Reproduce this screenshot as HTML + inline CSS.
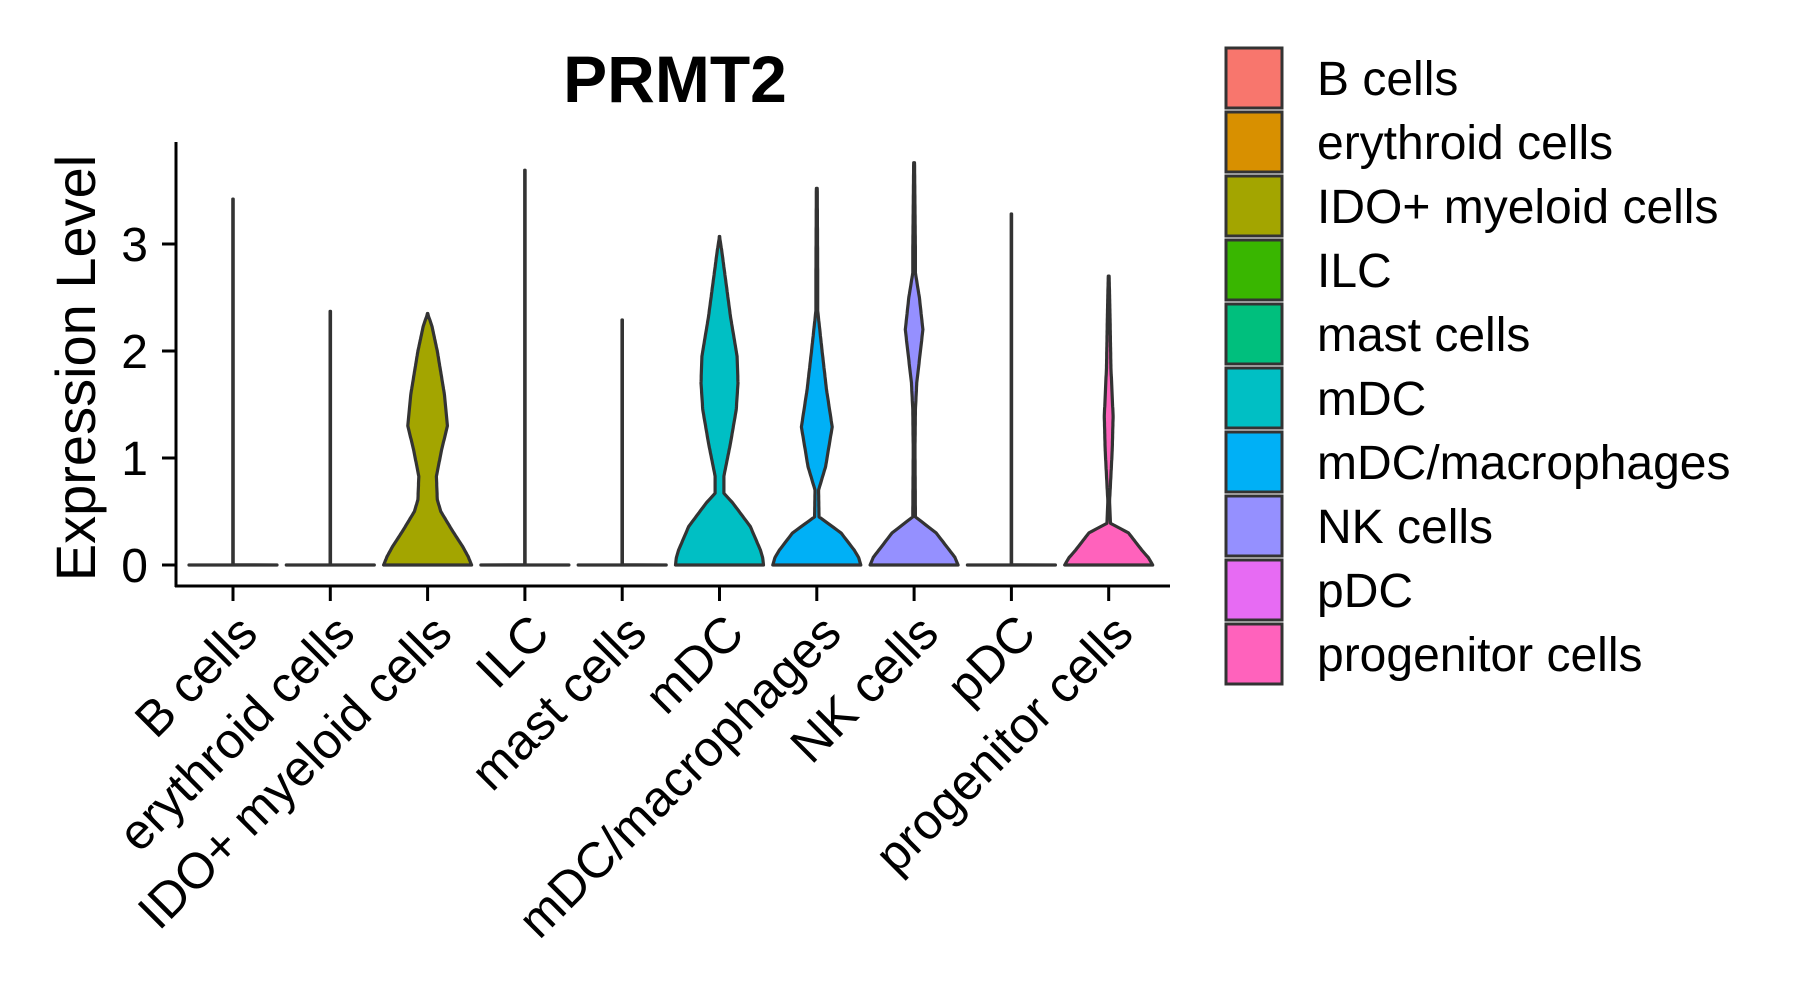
<!DOCTYPE html>
<html><head><meta charset="utf-8"><style>
html,body{margin:0;padding:0;background:#fff;}
svg{display:block;font-family:"Liberation Sans",Arial,sans-serif;}
</style></head><body>
<svg id="chart" width="1795" height="1002" viewBox="0 0 1795 1002">
<text x="675" y="102" text-anchor="middle" font-size="66" font-weight="bold">PRMT2</text>
<text transform="translate(95,368) rotate(-90)" text-anchor="middle" font-size="56">Expression Level</text>
<g id="plot"></g>
<g id="legend"></g>
</svg>
<script>
const categories = ["B cells","erythroid cells","IDO+ myeloid cells","ILC","mast cells","mDC","mDC/macrophages","NK cells","pDC","progenitor cells"];
const colors = ["#F8766D","#D89000","#A3A500","#39B600","#00BF7D","#00BFC4","#00B0F6","#9590FF","#E76BF3","#FF62BC"];
const maxValues = [3.42,2.37,2.35,3.69,2.29,3.07,3.52,3.76,3.28,2.70];
const yTicks = [0,1,2,3];
// density profiles: [expression, relative half-width]
const profiles = [
 [[0,1],[0.002,0.005],[3.42,0.005]],
 [[0,1],[0.002,0.005],[2.37,0.005]],
 [[0,1],[0.08,0.92],[0.17,0.8],[0.33,0.55],[0.5,0.3],[0.61,0.22],[0.83,0.2],[1.08,0.32],[1.3,0.45],[1.6,0.38],[2.0,0.22],[2.23,0.1],[2.35,0]],
 [[0,1],[0.002,0.005],[3.69,0.005]],
 [[0,1],[0.002,0.005],[2.29,0.005]],
 [[0,1],[0.07,0.98],[0.14,0.93],[0.36,0.7],[0.58,0.3],[0.67,0.1],[0.83,0.1],[1.14,0.25],[1.45,0.38],[1.7,0.42],[1.95,0.4],[2.32,0.25],[2.63,0.15],[2.94,0.05],[3.07,0]],
 [[0,1],[0.07,0.95],[0.14,0.85],[0.3,0.55],[0.45,0.05],[0.7,0.04],[0.92,0.2],[1.29,0.35],[1.64,0.22],[2.0,0.12],[2.38,0.02],[2.73,0.02],[3.52,0.01]],
 [[0,1],[0.07,0.93],[0.14,0.8],[0.3,0.5],[0.45,0.03],[1.07,0.02],[1.45,0.03],[1.7,0.06],[2.2,0.2],[2.5,0.12],[2.73,0.03],[2.94,0.03],[3.76,0.01]],
 [[0,1],[0.002,0.005],[3.28,0.005]],
 [[0,1],[0.07,0.9],[0.14,0.75],[0.3,0.45],[0.39,0.04],[0.6,0.02],[1.07,0.08],[1.39,0.1],[1.85,0.05],[2.32,0.03],[2.7,0.01]]
];
const NS="http://www.w3.org/2000/svg";
const plot=document.getElementById('plot');
const X0=233, STEP=97.3, Y0=565, UNIT=107, HALF=44;
function xScale(i){return X0+i*STEP;}
function yScale(v){return Y0-v*UNIT;}
function mk(tag,attrs,parent){const e=document.createElementNS(NS,tag);for(const k in attrs)e.setAttribute(k,attrs[k]);parent.appendChild(e);return e;}
const yAxis=mk('line',{x1:176,y1:142,x2:176,y2:587,stroke:'#000','stroke-width':3},plot);


const xAxis=mk('line',{x1:175,y1:586,x2:1170,y2:586,stroke:'#000','stroke-width':3},plot);


yTicks.forEach(t=>{
  const y=yScale(t);
  const tk=mk('line',{x1:162,y1:y,x2:176,y2:y,stroke:'#000','stroke-width':3},plot);
  
  
  const lb=mk('text',{x:148,y:y+17,'text-anchor':'end','font-size':48},plot);
  lb.textContent=t;
  
  
});
function interp(p,v){
  for(let k=0;k<p.length-1;k++){
    if(v>=p[k][0]&&v<=p[k+1][0]){
      const t=(v-p[k][0])/(p[k+1][0]-p[k][0]||1);
      return p[k][1]+(p[k+1][1]-p[k][1])*t;
    }
  }
  return p[p.length-1][1];
}
categories.forEach((c,i)=>{
  const cx=xScale(i);
  const p=profiles[i];
  const top=maxValues[i];
  let vs=p.map(q=>q[0]).filter(v=>v<=top);
  for(let k=0;k<=120;k++) vs.push(top*k/120);
  vs.push(top);
  vs=[...new Set(vs.map(v=>+v.toFixed(4)))].sort((a,b)=>a-b);
  const right=[], left=[];
  vs.forEach(v=>{
    const w=Math.max(interp(p,v),0.004)*HALF;
    right.push([cx+w,yScale(v)]);
    left.push([cx-w,yScale(v)]);
  });
  const pts=right.concat(left.reverse()).map(q=>q[0].toFixed(1)+','+q[1].toFixed(1)).join(' ');
  const vp=mk('polygon',{points:pts,fill:colors[i],stroke:'#333','stroke-width':3.2,'stroke-linejoin':'round'},plot);
  
  
  const tk=mk('line',{x1:cx,y1:586,x2:cx,y2:601,stroke:'#000','stroke-width':3},plot);
  
  
  const lb=mk('text',{transform:'translate('+(cx+27)+',636) rotate(-45)','text-anchor':'end','font-size':50},plot);
  lb.textContent=c;
  
  
});
const leg=document.getElementById('legend');
categories.forEach((c,i)=>{
  const y=48+i*64;
  const r=mk('rect',{x:1226,y:y,width:56,height:60,fill:colors[i],stroke:'#333','stroke-width':3},leg);
  
  
  const t=mk('text',{x:1317,y:y+47,'font-size':48},leg);
  t.textContent=c;
  
  
});
</script>
</body></html>
